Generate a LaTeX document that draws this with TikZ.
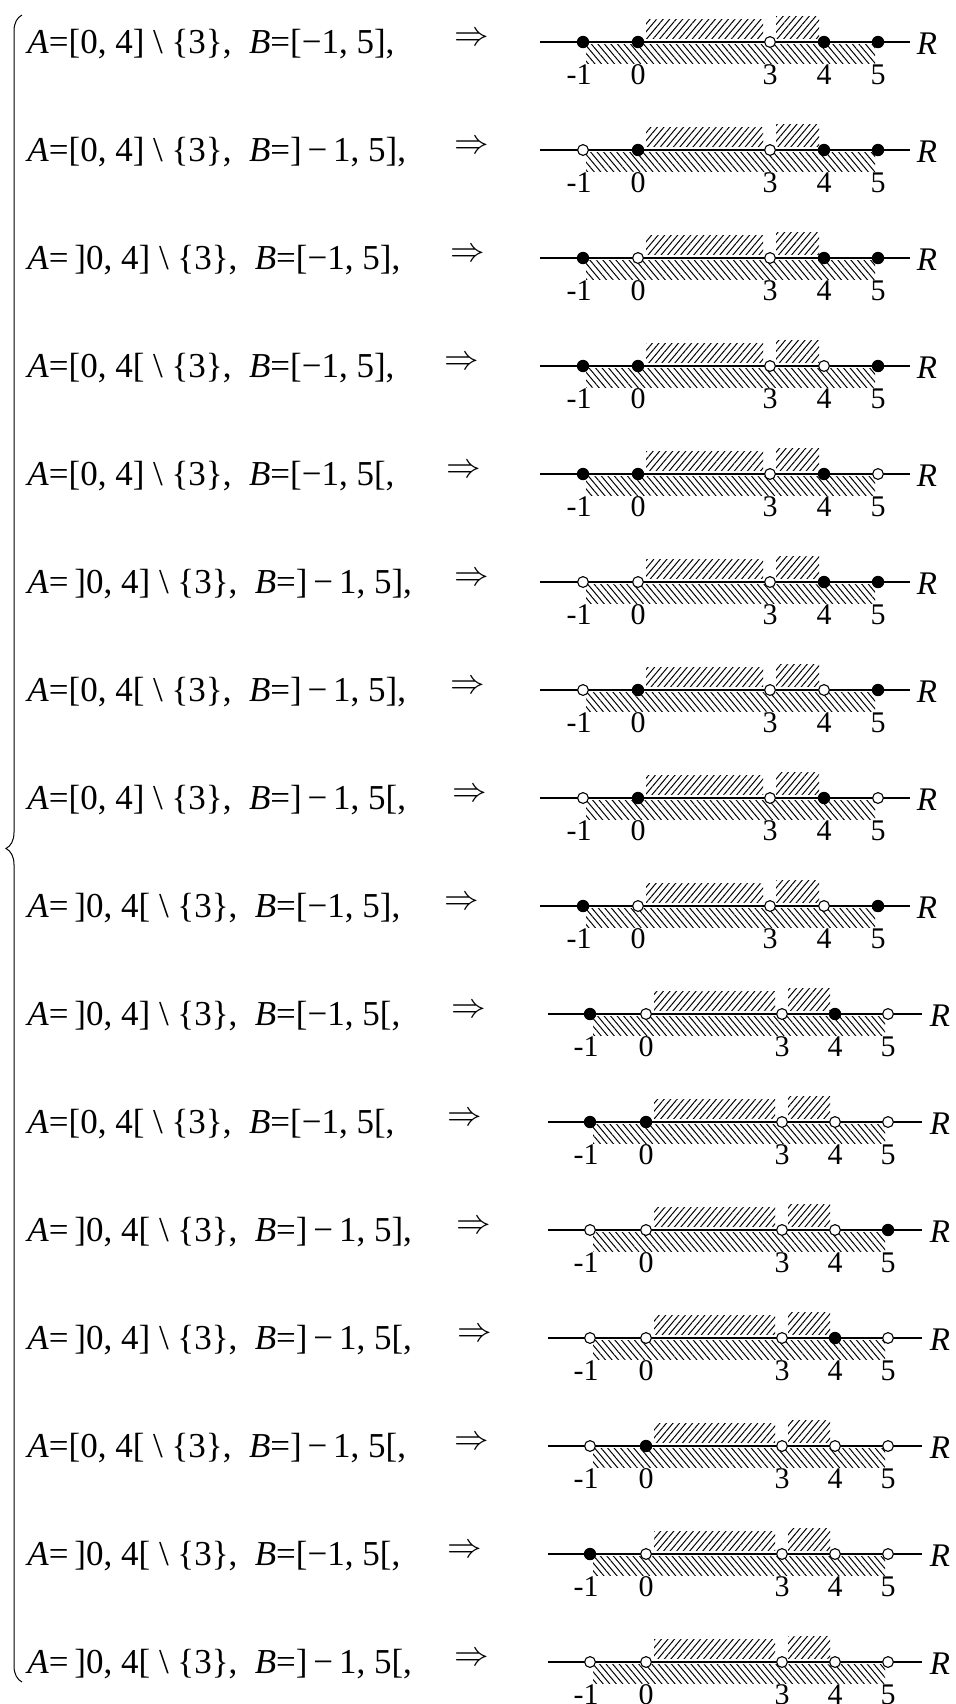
\documentclass[tikz,border=0pt]{standalone}
\usepackage{fontspec}
\setmainfont{Liberation Serif}
\usetikzlibrary{patterns.meta,decorations.pathreplacing}

% brackets of the interval texts (1 = closed end, 0 = open end)
\newcommand{\aleft}[1]{\ifnum#1=1 [\else\,]\fi}
\newcommand{\aright}[1]{\ifnum#1=1 ]\else[\fi}
\newcommand{\bleft}[1]{\ifnum#1=1 [−1\else]\,−\,1\fi}

\begin{document}
\begin{tikzpicture}[x=0.5pt, y=-0.5pt,
    axisline/.style={line width=0.7pt},
    ptfull/.style={circle, fill=black, inner sep=0pt, minimum size=6.2pt},
    ptopen/.style={circle, draw=black, line width=0.55pt, fill=white, inner sep=0pt, minimum size=5.4pt},
    hatchA/.style={pattern={Lines[angle=50, distance=2.5pt, line width=0.5pt]}},
    hatchB/.style={pattern={Lines[angle=-50, distance=2.5pt, line width=0.5pt]}},
    ticklabel/.style={inner sep=0pt, font=\fontsize{15}{15}\selectfont},
    settext/.style={anchor=base west, inner sep=0pt, font=\fontsize{17.5}{20}\selectfont},
    implies/.style={anchor=west, inner sep=0pt, font=\fontsize{18}{18}\selectfont}]

    \useasboundingbox (0,0) rectangle (955,1704);

    % --- 1. Left brace ---
    \draw[decorate, decoration={brace, amplitude=8pt}, line width=0.5pt] (22,1682) -- (22,15);

    % --- 2. One row per pair of sets: A flags (0, 4), B flags (-1, 5), arrow x ---
    \foreach \row/\pa/\pb/\qa/\qb/\ax in {
        1/1/1/1/1/455, 2/1/1/0/1/455, 3/0/1/1/1/451, 4/1/0/1/1/445,
        5/1/1/1/0/447, 6/0/1/0/1/455, 7/1/0/0/1/451, 8/1/1/0/0/453,
        9/0/0/1/1/445, 10/0/1/1/0/452, 11/1/0/1/0/448, 12/0/0/0/1/457,
        13/0/1/0/0/458, 14/1/0/0/0/455, 15/0/0/1/0/448, 16/0/0/0/0/455}
    {
        \pgfmathsetmacro{\yy}{42+108*(\row-1)}
        % positions on the line (lower rows sit a little further right)
        \ifnum\row<10
            \def\xl{540}\def\xm{583}\def\xo{638}\def\xt{770}\def\xf{824}\def\xv{878}\def\xr{910}\def\xR{927}
        \else
            \def\xl{548}\def\xm{590}\def\xo{646}\def\xt{782}\def\xf{835}\def\xv{888}\def\xr{922}\def\xR{940}
        \fi
        \ifnum\qa=1 \def\stm{ptfull}\else\def\stm{ptopen}\fi
        \ifnum\pa=1 \def\sto{ptfull}\else\def\sto{ptopen}\fi
        \ifnum\pb=1 \def\stf{ptfull}\else\def\stf{ptopen}\fi
        \ifnum\qb=1 \def\stv{ptfull}\else\def\stv{ptopen}\fi

        % text and arrow
        \node[settext] (set\row) at (27,\yy+11)
            {\textit{A}=\aleft{\pa}0, 4\aright{\pb}\ \textbackslash\ \{3\},\ \ \textit{B}=\bleft{\qa}, 5\aright{\qb},};
        \node[implies] (imp\row) at (\ax-1,\yy-3) {$\Rightarrow$};

        % hatching: A above, B below
        \fill[hatchA] (\xo+8,\yy-23) rectangle (\xt-7,\yy-4);
        \fill[hatchA] (\xt+6,\yy-26) rectangle (\xf-5,\yy-4);
        \fill[hatchB] (\xm+3,\yy+2) rectangle (\xv-3,\yy+21);

        % the line
        \coordinate (L\row) at (\xl,\yy);
        \coordinate (E\row) at (\xr,\yy);
        \draw[axisline] (L\row) -- (E\row);
        \node[font=\fontsize{16.5}{16.5}\selectfont, inner sep=0pt] (R\row) at (\xR,\yy+2) {\textit{R}};

        % end points
        \node[\stm] (m\row) at (\xm,\yy) {};
        \node[\sto] (o\row) at (\xo,\yy) {};
        \node[ptopen] (t\row) at (\xt,\yy) {};
        \node[\stf] (f\row) at (\xf,\yy) {};
        \node[\stv] (v\row) at (\xv,\yy) {};

        % numbers
        \node[ticklabel] (lm\row) at (\xm-4,\yy+33) {-1};
        \node[ticklabel] (lo\row) at (\xo,\yy+33) {0};
        \node[ticklabel] (lt\row) at (\xt,\yy+33) {3};
        \node[ticklabel] (lf\row) at (\xf,\yy+33) {4};
        \node[ticklabel] (lv\row) at (\xv,\yy+33) {5};
    }

\end{tikzpicture}
\end{document}
